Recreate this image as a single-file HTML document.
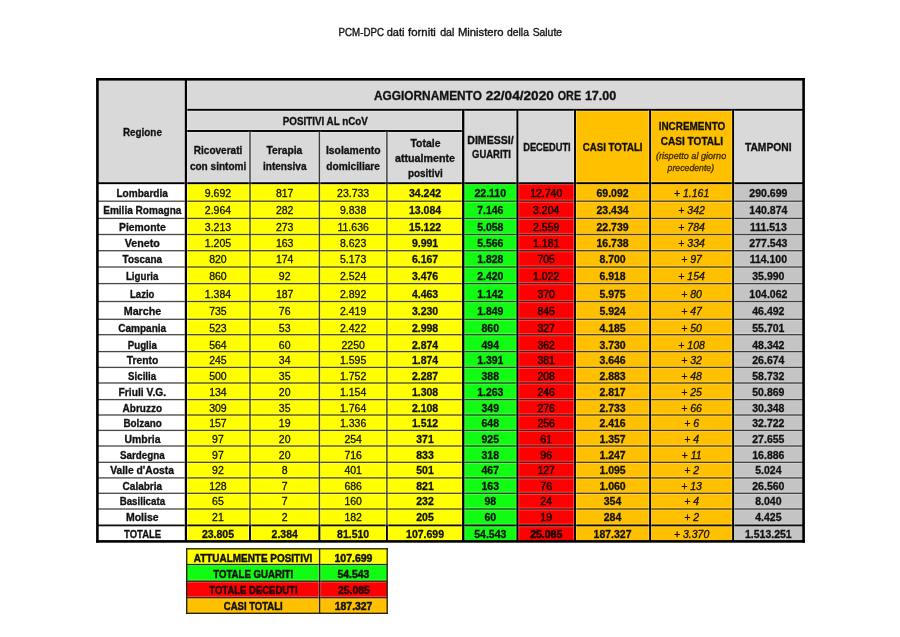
<!DOCTYPE html>
<html><head><meta charset="utf-8"><title>PCM-DPC</title>
<style>
html,body{margin:0;padding:0;background:#fff;}
body{width:900px;height:637px;overflow:hidden;}
svg{display:block;filter:blur(0.25px);}
text{font-family:"Liberation Sans", sans-serif;}
</style></head><body>
<svg width="900" height="637" viewBox="0 0 900 637">
<rect x="0" y="0" width="900" height="637" fill="#fff"/>
<rect x="97.40" y="79.30" width="706.20" height="103.90" fill="#d9d9d9"/>
<rect x="575.00" y="109.80" width="158.10" height="73.40" fill="#ffc000"/>
<rect x="97.40" y="183.20" width="88.50" height="18.00" fill="#ffffff"/>
<rect x="185.90" y="183.20" width="64.10" height="18.00" fill="#ffff00"/>
<rect x="250.00" y="183.20" width="69.40" height="18.00" fill="#ffff00"/>
<rect x="319.40" y="183.20" width="67.50" height="18.00" fill="#ffff00"/>
<rect x="386.90" y="183.20" width="76.30" height="18.00" fill="#ffff00"/>
<rect x="463.20" y="183.20" width="54.20" height="18.00" fill="#12fb12"/>
<rect x="517.40" y="183.20" width="57.60" height="18.00" fill="#fe0000"/>
<rect x="575.00" y="183.20" width="75.10" height="18.00" fill="#ffc000"/>
<rect x="650.10" y="183.20" width="83.00" height="18.00" fill="#ffc000"/>
<rect x="733.10" y="183.20" width="70.50" height="18.00" fill="#c4c4c4"/>
<rect x="97.40" y="201.20" width="88.50" height="17.20" fill="#ffffff"/>
<rect x="185.90" y="201.20" width="64.10" height="17.20" fill="#ffff00"/>
<rect x="250.00" y="201.20" width="69.40" height="17.20" fill="#ffff00"/>
<rect x="319.40" y="201.20" width="67.50" height="17.20" fill="#ffff00"/>
<rect x="386.90" y="201.20" width="76.30" height="17.20" fill="#ffff00"/>
<rect x="463.20" y="201.20" width="54.20" height="17.20" fill="#12fb12"/>
<rect x="517.40" y="201.20" width="57.60" height="17.20" fill="#fe0000"/>
<rect x="575.00" y="201.20" width="75.10" height="17.20" fill="#ffc000"/>
<rect x="650.10" y="201.20" width="83.00" height="17.20" fill="#ffc000"/>
<rect x="733.10" y="201.20" width="70.50" height="17.20" fill="#c4c4c4"/>
<rect x="97.40" y="218.40" width="88.50" height="16.10" fill="#ffffff"/>
<rect x="185.90" y="218.40" width="64.10" height="16.10" fill="#ffff00"/>
<rect x="250.00" y="218.40" width="69.40" height="16.10" fill="#ffff00"/>
<rect x="319.40" y="218.40" width="67.50" height="16.10" fill="#ffff00"/>
<rect x="386.90" y="218.40" width="76.30" height="16.10" fill="#ffff00"/>
<rect x="463.20" y="218.40" width="54.20" height="16.10" fill="#12fb12"/>
<rect x="517.40" y="218.40" width="57.60" height="16.10" fill="#fe0000"/>
<rect x="575.00" y="218.40" width="75.10" height="16.10" fill="#ffc000"/>
<rect x="650.10" y="218.40" width="83.00" height="16.10" fill="#ffc000"/>
<rect x="733.10" y="218.40" width="70.50" height="16.10" fill="#c4c4c4"/>
<rect x="97.40" y="234.50" width="88.50" height="16.20" fill="#ffffff"/>
<rect x="185.90" y="234.50" width="64.10" height="16.20" fill="#ffff00"/>
<rect x="250.00" y="234.50" width="69.40" height="16.20" fill="#ffff00"/>
<rect x="319.40" y="234.50" width="67.50" height="16.20" fill="#ffff00"/>
<rect x="386.90" y="234.50" width="76.30" height="16.20" fill="#ffff00"/>
<rect x="463.20" y="234.50" width="54.20" height="16.20" fill="#12fb12"/>
<rect x="517.40" y="234.50" width="57.60" height="16.20" fill="#fe0000"/>
<rect x="575.00" y="234.50" width="75.10" height="16.20" fill="#ffc000"/>
<rect x="650.10" y="234.50" width="83.00" height="16.20" fill="#ffc000"/>
<rect x="733.10" y="234.50" width="70.50" height="16.20" fill="#c4c4c4"/>
<rect x="97.40" y="250.70" width="88.50" height="16.30" fill="#ffffff"/>
<rect x="185.90" y="250.70" width="64.10" height="16.30" fill="#ffff00"/>
<rect x="250.00" y="250.70" width="69.40" height="16.30" fill="#ffff00"/>
<rect x="319.40" y="250.70" width="67.50" height="16.30" fill="#ffff00"/>
<rect x="386.90" y="250.70" width="76.30" height="16.30" fill="#ffff00"/>
<rect x="463.20" y="250.70" width="54.20" height="16.30" fill="#12fb12"/>
<rect x="517.40" y="250.70" width="57.60" height="16.30" fill="#fe0000"/>
<rect x="575.00" y="250.70" width="75.10" height="16.30" fill="#ffc000"/>
<rect x="650.10" y="250.70" width="83.00" height="16.30" fill="#ffc000"/>
<rect x="733.10" y="250.70" width="70.50" height="16.30" fill="#c4c4c4"/>
<rect x="97.40" y="267.00" width="88.50" height="16.60" fill="#ffffff"/>
<rect x="185.90" y="267.00" width="64.10" height="16.60" fill="#ffff00"/>
<rect x="250.00" y="267.00" width="69.40" height="16.60" fill="#ffff00"/>
<rect x="319.40" y="267.00" width="67.50" height="16.60" fill="#ffff00"/>
<rect x="386.90" y="267.00" width="76.30" height="16.60" fill="#ffff00"/>
<rect x="463.20" y="267.00" width="54.20" height="16.60" fill="#12fb12"/>
<rect x="517.40" y="267.00" width="57.60" height="16.60" fill="#fe0000"/>
<rect x="575.00" y="267.00" width="75.10" height="16.60" fill="#ffc000"/>
<rect x="650.10" y="267.00" width="83.00" height="16.60" fill="#ffc000"/>
<rect x="733.10" y="267.00" width="70.50" height="16.60" fill="#c4c4c4"/>
<rect x="97.40" y="283.60" width="88.50" height="17.90" fill="#ffffff"/>
<rect x="185.90" y="283.60" width="64.10" height="17.90" fill="#ffff00"/>
<rect x="250.00" y="283.60" width="69.40" height="17.90" fill="#ffff00"/>
<rect x="319.40" y="283.60" width="67.50" height="17.90" fill="#ffff00"/>
<rect x="386.90" y="283.60" width="76.30" height="17.90" fill="#ffff00"/>
<rect x="463.20" y="283.60" width="54.20" height="17.90" fill="#12fb12"/>
<rect x="517.40" y="283.60" width="57.60" height="17.90" fill="#fe0000"/>
<rect x="575.00" y="283.60" width="75.10" height="17.90" fill="#ffc000"/>
<rect x="650.10" y="283.60" width="83.00" height="17.90" fill="#ffc000"/>
<rect x="733.10" y="283.60" width="70.50" height="17.90" fill="#c4c4c4"/>
<rect x="97.40" y="301.50" width="88.50" height="17.80" fill="#ffffff"/>
<rect x="185.90" y="301.50" width="64.10" height="17.80" fill="#ffff00"/>
<rect x="250.00" y="301.50" width="69.40" height="17.80" fill="#ffff00"/>
<rect x="319.40" y="301.50" width="67.50" height="17.80" fill="#ffff00"/>
<rect x="386.90" y="301.50" width="76.30" height="17.80" fill="#ffff00"/>
<rect x="463.20" y="301.50" width="54.20" height="17.80" fill="#12fb12"/>
<rect x="517.40" y="301.50" width="57.60" height="17.80" fill="#fe0000"/>
<rect x="575.00" y="301.50" width="75.10" height="17.80" fill="#ffc000"/>
<rect x="650.10" y="301.50" width="83.00" height="17.80" fill="#ffc000"/>
<rect x="733.10" y="301.50" width="70.50" height="17.80" fill="#c4c4c4"/>
<rect x="97.40" y="319.30" width="88.50" height="15.40" fill="#ffffff"/>
<rect x="185.90" y="319.30" width="64.10" height="15.40" fill="#ffff00"/>
<rect x="250.00" y="319.30" width="69.40" height="15.40" fill="#ffff00"/>
<rect x="319.40" y="319.30" width="67.50" height="15.40" fill="#ffff00"/>
<rect x="386.90" y="319.30" width="76.30" height="15.40" fill="#ffff00"/>
<rect x="463.20" y="319.30" width="54.20" height="15.40" fill="#12fb12"/>
<rect x="517.40" y="319.30" width="57.60" height="15.40" fill="#fe0000"/>
<rect x="575.00" y="319.30" width="75.10" height="15.40" fill="#ffc000"/>
<rect x="650.10" y="319.30" width="83.00" height="15.40" fill="#ffc000"/>
<rect x="733.10" y="319.30" width="70.50" height="15.40" fill="#c4c4c4"/>
<rect x="97.40" y="334.70" width="88.50" height="16.90" fill="#ffffff"/>
<rect x="185.90" y="334.70" width="64.10" height="16.90" fill="#ffff00"/>
<rect x="250.00" y="334.70" width="69.40" height="16.90" fill="#ffff00"/>
<rect x="319.40" y="334.70" width="67.50" height="16.90" fill="#ffff00"/>
<rect x="386.90" y="334.70" width="76.30" height="16.90" fill="#ffff00"/>
<rect x="463.20" y="334.70" width="54.20" height="16.90" fill="#12fb12"/>
<rect x="517.40" y="334.70" width="57.60" height="16.90" fill="#fe0000"/>
<rect x="575.00" y="334.70" width="75.10" height="16.90" fill="#ffc000"/>
<rect x="650.10" y="334.70" width="83.00" height="16.90" fill="#ffc000"/>
<rect x="733.10" y="334.70" width="70.50" height="16.90" fill="#c4c4c4"/>
<rect x="97.40" y="351.60" width="88.50" height="15.80" fill="#ffffff"/>
<rect x="185.90" y="351.60" width="64.10" height="15.80" fill="#ffff00"/>
<rect x="250.00" y="351.60" width="69.40" height="15.80" fill="#ffff00"/>
<rect x="319.40" y="351.60" width="67.50" height="15.80" fill="#ffff00"/>
<rect x="386.90" y="351.60" width="76.30" height="15.80" fill="#ffff00"/>
<rect x="463.20" y="351.60" width="54.20" height="15.80" fill="#12fb12"/>
<rect x="517.40" y="351.60" width="57.60" height="15.80" fill="#fe0000"/>
<rect x="575.00" y="351.60" width="75.10" height="15.80" fill="#ffc000"/>
<rect x="650.10" y="351.60" width="83.00" height="15.80" fill="#ffc000"/>
<rect x="733.10" y="351.60" width="70.50" height="15.80" fill="#c4c4c4"/>
<rect x="97.40" y="367.40" width="88.50" height="15.60" fill="#ffffff"/>
<rect x="185.90" y="367.40" width="64.10" height="15.60" fill="#ffff00"/>
<rect x="250.00" y="367.40" width="69.40" height="15.60" fill="#ffff00"/>
<rect x="319.40" y="367.40" width="67.50" height="15.60" fill="#ffff00"/>
<rect x="386.90" y="367.40" width="76.30" height="15.60" fill="#ffff00"/>
<rect x="463.20" y="367.40" width="54.20" height="15.60" fill="#12fb12"/>
<rect x="517.40" y="367.40" width="57.60" height="15.60" fill="#fe0000"/>
<rect x="575.00" y="367.40" width="75.10" height="15.60" fill="#ffc000"/>
<rect x="650.10" y="367.40" width="83.00" height="15.60" fill="#ffc000"/>
<rect x="733.10" y="367.40" width="70.50" height="15.60" fill="#c4c4c4"/>
<rect x="97.40" y="383.00" width="88.50" height="16.60" fill="#ffffff"/>
<rect x="185.90" y="383.00" width="64.10" height="16.60" fill="#ffff00"/>
<rect x="250.00" y="383.00" width="69.40" height="16.60" fill="#ffff00"/>
<rect x="319.40" y="383.00" width="67.50" height="16.60" fill="#ffff00"/>
<rect x="386.90" y="383.00" width="76.30" height="16.60" fill="#ffff00"/>
<rect x="463.20" y="383.00" width="54.20" height="16.60" fill="#12fb12"/>
<rect x="517.40" y="383.00" width="57.60" height="16.60" fill="#fe0000"/>
<rect x="575.00" y="383.00" width="75.10" height="16.60" fill="#ffc000"/>
<rect x="650.10" y="383.00" width="83.00" height="16.60" fill="#ffc000"/>
<rect x="733.10" y="383.00" width="70.50" height="16.60" fill="#c4c4c4"/>
<rect x="97.40" y="399.60" width="88.50" height="15.40" fill="#ffffff"/>
<rect x="185.90" y="399.60" width="64.10" height="15.40" fill="#ffff00"/>
<rect x="250.00" y="399.60" width="69.40" height="15.40" fill="#ffff00"/>
<rect x="319.40" y="399.60" width="67.50" height="15.40" fill="#ffff00"/>
<rect x="386.90" y="399.60" width="76.30" height="15.40" fill="#ffff00"/>
<rect x="463.20" y="399.60" width="54.20" height="15.40" fill="#12fb12"/>
<rect x="517.40" y="399.60" width="57.60" height="15.40" fill="#fe0000"/>
<rect x="575.00" y="399.60" width="75.10" height="15.40" fill="#ffc000"/>
<rect x="650.10" y="399.60" width="83.00" height="15.40" fill="#ffc000"/>
<rect x="733.10" y="399.60" width="70.50" height="15.40" fill="#c4c4c4"/>
<rect x="97.40" y="415.00" width="88.50" height="15.40" fill="#ffffff"/>
<rect x="185.90" y="415.00" width="64.10" height="15.40" fill="#ffff00"/>
<rect x="250.00" y="415.00" width="69.40" height="15.40" fill="#ffff00"/>
<rect x="319.40" y="415.00" width="67.50" height="15.40" fill="#ffff00"/>
<rect x="386.90" y="415.00" width="76.30" height="15.40" fill="#ffff00"/>
<rect x="463.20" y="415.00" width="54.20" height="15.40" fill="#12fb12"/>
<rect x="517.40" y="415.00" width="57.60" height="15.40" fill="#fe0000"/>
<rect x="575.00" y="415.00" width="75.10" height="15.40" fill="#ffc000"/>
<rect x="650.10" y="415.00" width="83.00" height="15.40" fill="#ffc000"/>
<rect x="733.10" y="415.00" width="70.50" height="15.40" fill="#c4c4c4"/>
<rect x="97.40" y="430.40" width="88.50" height="15.60" fill="#ffffff"/>
<rect x="185.90" y="430.40" width="64.10" height="15.60" fill="#ffff00"/>
<rect x="250.00" y="430.40" width="69.40" height="15.60" fill="#ffff00"/>
<rect x="319.40" y="430.40" width="67.50" height="15.60" fill="#ffff00"/>
<rect x="386.90" y="430.40" width="76.30" height="15.60" fill="#ffff00"/>
<rect x="463.20" y="430.40" width="54.20" height="15.60" fill="#12fb12"/>
<rect x="517.40" y="430.40" width="57.60" height="15.60" fill="#fe0000"/>
<rect x="575.00" y="430.40" width="75.10" height="15.60" fill="#ffc000"/>
<rect x="650.10" y="430.40" width="83.00" height="15.60" fill="#ffc000"/>
<rect x="733.10" y="430.40" width="70.50" height="15.60" fill="#c4c4c4"/>
<rect x="97.40" y="446.00" width="88.50" height="16.30" fill="#ffffff"/>
<rect x="185.90" y="446.00" width="64.10" height="16.30" fill="#ffff00"/>
<rect x="250.00" y="446.00" width="69.40" height="16.30" fill="#ffff00"/>
<rect x="319.40" y="446.00" width="67.50" height="16.30" fill="#ffff00"/>
<rect x="386.90" y="446.00" width="76.30" height="16.30" fill="#ffff00"/>
<rect x="463.20" y="446.00" width="54.20" height="16.30" fill="#12fb12"/>
<rect x="517.40" y="446.00" width="57.60" height="16.30" fill="#fe0000"/>
<rect x="575.00" y="446.00" width="75.10" height="16.30" fill="#ffc000"/>
<rect x="650.10" y="446.00" width="83.00" height="16.30" fill="#ffc000"/>
<rect x="733.10" y="446.00" width="70.50" height="16.30" fill="#c4c4c4"/>
<rect x="97.40" y="462.30" width="88.50" height="15.60" fill="#ffffff"/>
<rect x="185.90" y="462.30" width="64.10" height="15.60" fill="#ffff00"/>
<rect x="250.00" y="462.30" width="69.40" height="15.60" fill="#ffff00"/>
<rect x="319.40" y="462.30" width="67.50" height="15.60" fill="#ffff00"/>
<rect x="386.90" y="462.30" width="76.30" height="15.60" fill="#ffff00"/>
<rect x="463.20" y="462.30" width="54.20" height="15.60" fill="#12fb12"/>
<rect x="517.40" y="462.30" width="57.60" height="15.60" fill="#fe0000"/>
<rect x="575.00" y="462.30" width="75.10" height="15.60" fill="#ffc000"/>
<rect x="650.10" y="462.30" width="83.00" height="15.60" fill="#ffc000"/>
<rect x="733.10" y="462.30" width="70.50" height="15.60" fill="#c4c4c4"/>
<rect x="97.40" y="477.90" width="88.50" height="15.40" fill="#ffffff"/>
<rect x="185.90" y="477.90" width="64.10" height="15.40" fill="#ffff00"/>
<rect x="250.00" y="477.90" width="69.40" height="15.40" fill="#ffff00"/>
<rect x="319.40" y="477.90" width="67.50" height="15.40" fill="#ffff00"/>
<rect x="386.90" y="477.90" width="76.30" height="15.40" fill="#ffff00"/>
<rect x="463.20" y="477.90" width="54.20" height="15.40" fill="#12fb12"/>
<rect x="517.40" y="477.90" width="57.60" height="15.40" fill="#fe0000"/>
<rect x="575.00" y="477.90" width="75.10" height="15.40" fill="#ffc000"/>
<rect x="650.10" y="477.90" width="83.00" height="15.40" fill="#ffc000"/>
<rect x="733.10" y="477.90" width="70.50" height="15.40" fill="#c4c4c4"/>
<rect x="97.40" y="493.30" width="88.50" height="15.70" fill="#ffffff"/>
<rect x="185.90" y="493.30" width="64.10" height="15.70" fill="#ffff00"/>
<rect x="250.00" y="493.30" width="69.40" height="15.70" fill="#ffff00"/>
<rect x="319.40" y="493.30" width="67.50" height="15.70" fill="#ffff00"/>
<rect x="386.90" y="493.30" width="76.30" height="15.70" fill="#ffff00"/>
<rect x="463.20" y="493.30" width="54.20" height="15.70" fill="#12fb12"/>
<rect x="517.40" y="493.30" width="57.60" height="15.70" fill="#fe0000"/>
<rect x="575.00" y="493.30" width="75.10" height="15.70" fill="#ffc000"/>
<rect x="650.10" y="493.30" width="83.00" height="15.70" fill="#ffc000"/>
<rect x="733.10" y="493.30" width="70.50" height="15.70" fill="#c4c4c4"/>
<rect x="97.40" y="509.00" width="88.50" height="16.40" fill="#ffffff"/>
<rect x="185.90" y="509.00" width="64.10" height="16.40" fill="#ffff00"/>
<rect x="250.00" y="509.00" width="69.40" height="16.40" fill="#ffff00"/>
<rect x="319.40" y="509.00" width="67.50" height="16.40" fill="#ffff00"/>
<rect x="386.90" y="509.00" width="76.30" height="16.40" fill="#ffff00"/>
<rect x="463.20" y="509.00" width="54.20" height="16.40" fill="#12fb12"/>
<rect x="517.40" y="509.00" width="57.60" height="16.40" fill="#fe0000"/>
<rect x="575.00" y="509.00" width="75.10" height="16.40" fill="#ffc000"/>
<rect x="650.10" y="509.00" width="83.00" height="16.40" fill="#ffc000"/>
<rect x="733.10" y="509.00" width="70.50" height="16.40" fill="#c4c4c4"/>
<rect x="97.40" y="525.40" width="88.50" height="16.00" fill="#ffffff"/>
<rect x="185.90" y="525.40" width="64.10" height="16.00" fill="#ffff00"/>
<rect x="250.00" y="525.40" width="69.40" height="16.00" fill="#ffff00"/>
<rect x="319.40" y="525.40" width="67.50" height="16.00" fill="#ffff00"/>
<rect x="386.90" y="525.40" width="76.30" height="16.00" fill="#ffff00"/>
<rect x="463.20" y="525.40" width="54.20" height="16.00" fill="#12fb12"/>
<rect x="517.40" y="525.40" width="57.60" height="16.00" fill="#fe0000"/>
<rect x="575.00" y="525.40" width="75.10" height="16.00" fill="#ffc000"/>
<rect x="650.10" y="525.40" width="83.00" height="16.00" fill="#ffc000"/>
<rect x="733.10" y="525.40" width="70.50" height="16.00" fill="#c4c4c4"/>
<rect x="97.40" y="199.65" width="706.20" height="3.10" fill="#fff" fill-opacity="0.28"/>
<rect x="97.40" y="200.55" width="706.20" height="1.30" fill="#000" fill-opacity="0.72"/>
<rect x="97.40" y="216.85" width="706.20" height="3.10" fill="#fff" fill-opacity="0.28"/>
<rect x="97.40" y="217.75" width="706.20" height="1.30" fill="#000" fill-opacity="0.72"/>
<rect x="97.40" y="232.95" width="706.20" height="3.10" fill="#fff" fill-opacity="0.28"/>
<rect x="97.40" y="233.85" width="706.20" height="1.30" fill="#000" fill-opacity="0.72"/>
<rect x="97.40" y="249.15" width="706.20" height="3.10" fill="#fff" fill-opacity="0.28"/>
<rect x="97.40" y="250.05" width="706.20" height="1.30" fill="#000" fill-opacity="0.72"/>
<rect x="97.40" y="265.45" width="706.20" height="3.10" fill="#fff" fill-opacity="0.28"/>
<rect x="97.40" y="266.35" width="706.20" height="1.30" fill="#000" fill-opacity="0.72"/>
<rect x="97.40" y="282.05" width="706.20" height="3.10" fill="#fff" fill-opacity="0.28"/>
<rect x="97.40" y="282.95" width="706.20" height="1.30" fill="#000" fill-opacity="0.72"/>
<rect x="97.40" y="299.95" width="706.20" height="3.10" fill="#fff" fill-opacity="0.28"/>
<rect x="97.40" y="300.85" width="706.20" height="1.30" fill="#000" fill-opacity="0.72"/>
<rect x="97.40" y="317.75" width="706.20" height="3.10" fill="#fff" fill-opacity="0.28"/>
<rect x="97.40" y="318.65" width="706.20" height="1.30" fill="#000" fill-opacity="0.72"/>
<rect x="97.40" y="333.15" width="706.20" height="3.10" fill="#fff" fill-opacity="0.28"/>
<rect x="97.40" y="334.05" width="706.20" height="1.30" fill="#000" fill-opacity="0.72"/>
<rect x="97.40" y="350.05" width="706.20" height="3.10" fill="#fff" fill-opacity="0.28"/>
<rect x="97.40" y="350.95" width="706.20" height="1.30" fill="#000" fill-opacity="0.72"/>
<rect x="97.40" y="365.85" width="706.20" height="3.10" fill="#fff" fill-opacity="0.28"/>
<rect x="97.40" y="366.75" width="706.20" height="1.30" fill="#000" fill-opacity="0.72"/>
<rect x="97.40" y="381.45" width="706.20" height="3.10" fill="#fff" fill-opacity="0.28"/>
<rect x="97.40" y="382.35" width="706.20" height="1.30" fill="#000" fill-opacity="0.72"/>
<rect x="97.40" y="398.05" width="706.20" height="3.10" fill="#fff" fill-opacity="0.28"/>
<rect x="97.40" y="398.95" width="706.20" height="1.30" fill="#000" fill-opacity="0.72"/>
<rect x="97.40" y="413.45" width="706.20" height="3.10" fill="#fff" fill-opacity="0.28"/>
<rect x="97.40" y="414.35" width="706.20" height="1.30" fill="#000" fill-opacity="0.72"/>
<rect x="97.40" y="428.85" width="706.20" height="3.10" fill="#fff" fill-opacity="0.28"/>
<rect x="97.40" y="429.75" width="706.20" height="1.30" fill="#000" fill-opacity="0.72"/>
<rect x="97.40" y="444.45" width="706.20" height="3.10" fill="#fff" fill-opacity="0.28"/>
<rect x="97.40" y="445.35" width="706.20" height="1.30" fill="#000" fill-opacity="0.72"/>
<rect x="97.40" y="460.75" width="706.20" height="3.10" fill="#fff" fill-opacity="0.28"/>
<rect x="97.40" y="461.65" width="706.20" height="1.30" fill="#000" fill-opacity="0.72"/>
<rect x="97.40" y="476.35" width="706.20" height="3.10" fill="#fff" fill-opacity="0.28"/>
<rect x="97.40" y="477.25" width="706.20" height="1.30" fill="#000" fill-opacity="0.72"/>
<rect x="97.40" y="491.75" width="706.20" height="3.10" fill="#fff" fill-opacity="0.28"/>
<rect x="97.40" y="492.65" width="706.20" height="1.30" fill="#000" fill-opacity="0.72"/>
<rect x="97.40" y="507.45" width="706.20" height="3.10" fill="#fff" fill-opacity="0.28"/>
<rect x="97.40" y="508.35" width="706.20" height="1.30" fill="#000" fill-opacity="0.72"/>
<rect x="97.40" y="523.60" width="706.20" height="3.60" fill="#fff" fill-opacity="0.28"/>
<rect x="97.40" y="524.50" width="706.20" height="1.80" fill="#000" fill-opacity="0.95"/>
<rect x="185.90" y="107.95" width="617.70" height="3.70" fill="#fff" fill-opacity="0.28"/>
<rect x="185.90" y="108.85" width="617.70" height="1.90" fill="#000" fill-opacity="1"/>
<rect x="185.90" y="129.15" width="277.30" height="3.70" fill="#fff" fill-opacity="0.28"/>
<rect x="185.90" y="130.05" width="277.30" height="1.90" fill="#000" fill-opacity="1"/>
<rect x="97.40" y="181.35" width="706.20" height="3.70" fill="#fff" fill-opacity="0.28"/>
<rect x="97.40" y="182.25" width="706.20" height="1.90" fill="#000" fill-opacity="1"/>
<rect x="248.40" y="131.00" width="3.20" height="410.40" fill="#fff" fill-opacity="0.28"/>
<rect x="249.30" y="131.00" width="1.40" height="410.40" fill="#000" fill-opacity="0.75"/>
<rect x="317.80" y="131.00" width="3.20" height="410.40" fill="#fff" fill-opacity="0.28"/>
<rect x="318.70" y="131.00" width="1.40" height="410.40" fill="#000" fill-opacity="0.75"/>
<rect x="385.30" y="131.00" width="3.20" height="410.40" fill="#fff" fill-opacity="0.28"/>
<rect x="386.20" y="131.00" width="1.40" height="410.40" fill="#000" fill-opacity="0.75"/>
<rect x="248.20" y="525.40" width="3.60" height="16.00" fill="#fff" fill-opacity="0.28"/>
<rect x="249.10" y="525.40" width="1.80" height="16.00" fill="#000" fill-opacity="1"/>
<rect x="317.60" y="525.40" width="3.60" height="16.00" fill="#fff" fill-opacity="0.28"/>
<rect x="318.50" y="525.40" width="1.80" height="16.00" fill="#000" fill-opacity="1"/>
<rect x="385.10" y="525.40" width="3.60" height="16.00" fill="#fff" fill-opacity="0.28"/>
<rect x="386.00" y="525.40" width="1.80" height="16.00" fill="#000" fill-opacity="1"/>
<rect x="183.90" y="79.30" width="4.00" height="462.10" fill="#fff" fill-opacity="0.28"/>
<rect x="184.80" y="79.30" width="2.20" height="462.10" fill="#000" fill-opacity="1"/>
<rect x="461.15" y="109.80" width="4.10" height="431.60" fill="#fff" fill-opacity="0.28"/>
<rect x="462.05" y="109.80" width="2.30" height="431.60" fill="#000" fill-opacity="1"/>
<rect x="515.55" y="109.80" width="3.70" height="431.60" fill="#fff" fill-opacity="0.28"/>
<rect x="516.45" y="109.80" width="1.90" height="431.60" fill="#000" fill-opacity="1"/>
<rect x="573.15" y="109.80" width="3.70" height="431.60" fill="#fff" fill-opacity="0.28"/>
<rect x="574.05" y="109.80" width="1.90" height="431.60" fill="#000" fill-opacity="1"/>
<rect x="648.25" y="109.80" width="3.70" height="431.60" fill="#fff" fill-opacity="0.28"/>
<rect x="649.15" y="109.80" width="1.90" height="431.60" fill="#000" fill-opacity="1"/>
<rect x="731.25" y="109.80" width="3.70" height="431.60" fill="#fff" fill-opacity="0.28"/>
<rect x="732.15" y="109.80" width="1.90" height="431.60" fill="#000" fill-opacity="1"/>
<rect x="96.10" y="78.00" width="708.80" height="2.60" fill="#000"/>
<rect x="96.10" y="540.10" width="708.80" height="2.60" fill="#000"/>
<rect x="96.10" y="78.00" width="2.60" height="464.70" fill="#000"/>
<rect x="802.30" y="78.00" width="2.60" height="464.70" fill="#000"/>
<text x="361.25" y="36.20" font-size="10.3" font-weight="normal" font-style="normal" fill="#141414" text-anchor="middle" textLength="45.40" lengthAdjust="spacingAndGlyphs" stroke="#141414" stroke-width="0.35">PCM-DPC</text>
<text x="395.55" y="36.20" font-size="10.3" font-weight="normal" font-style="normal" fill="#141414" text-anchor="middle" textLength="17.80" lengthAdjust="spacingAndGlyphs" stroke="#141414" stroke-width="0.35">dati</text>
<text x="421.95" y="36.20" font-size="10.3" font-weight="normal" font-style="normal" fill="#141414" text-anchor="middle" textLength="27.80" lengthAdjust="spacingAndGlyphs" stroke="#141414" stroke-width="0.35">forniti</text>
<text x="447.25" y="36.20" font-size="10.3" font-weight="normal" font-style="normal" fill="#141414" text-anchor="middle" textLength="14.20" lengthAdjust="spacingAndGlyphs" stroke="#141414" stroke-width="0.35">dal</text>
<text x="480.80" y="36.20" font-size="10.3" font-weight="normal" font-style="normal" fill="#141414" text-anchor="middle" textLength="45.70" lengthAdjust="spacingAndGlyphs" stroke="#141414" stroke-width="0.35">Ministero</text>
<text x="518.00" y="36.20" font-size="10.3" font-weight="normal" font-style="normal" fill="#141414" text-anchor="middle" textLength="21.90" lengthAdjust="spacingAndGlyphs" stroke="#141414" stroke-width="0.35">della</text>
<text x="547.35" y="36.20" font-size="10.3" font-weight="normal" font-style="normal" fill="#141414" text-anchor="middle" textLength="29.40" lengthAdjust="spacingAndGlyphs" stroke="#141414" stroke-width="0.35">Salute</text>
<text x="427.95" y="99.70" font-size="12.3" font-weight="bold" font-style="normal" fill="#111" text-anchor="middle" textLength="107.90" lengthAdjust="spacingAndGlyphs" stroke="#111" stroke-width="0.3">AGGIORNAMENTO</text>
<text x="519.75" y="99.70" font-size="12.3" font-weight="bold" font-style="normal" fill="#111" text-anchor="middle" textLength="68.10" lengthAdjust="spacingAndGlyphs" stroke="#111" stroke-width="0.3">22/04/2020</text>
<text x="569.40" y="99.70" font-size="12.3" font-weight="bold" font-style="normal" fill="#111" text-anchor="middle" textLength="23.40" lengthAdjust="spacingAndGlyphs" stroke="#111" stroke-width="0.3">ORE</text>
<text x="600.60" y="99.70" font-size="12.3" font-weight="bold" font-style="normal" fill="#111" text-anchor="middle" textLength="31.40" lengthAdjust="spacingAndGlyphs" stroke="#111" stroke-width="0.3">17.00</text>
<text x="122.90" y="136.20" font-size="10.2" font-weight="bold" font-style="normal" fill="#111" text-anchor="start" textLength="39.00" lengthAdjust="spacingAndGlyphs" stroke="#111" stroke-width="0.3">Regione</text>
<text x="282.80" y="124.90" font-size="10.2" font-weight="bold" font-style="normal" fill="#111" text-anchor="start" textLength="85.00" lengthAdjust="spacingAndGlyphs" stroke="#111" stroke-width="0.3">POSITIVI AL nCoV</text>
<text x="193.80" y="153.80" font-size="10.2" font-weight="bold" font-style="normal" fill="#111" text-anchor="start" textLength="48.50" lengthAdjust="spacingAndGlyphs" stroke="#111" stroke-width="0.3">Ricoverati</text>
<text x="189.90" y="169.60" font-size="10.2" font-weight="bold" font-style="normal" fill="#111" text-anchor="start" textLength="56.40" lengthAdjust="spacingAndGlyphs" stroke="#111" stroke-width="0.3">con sintomi</text>
<text x="266.60" y="153.80" font-size="10.2" font-weight="bold" font-style="normal" fill="#111" text-anchor="start" textLength="35.70" lengthAdjust="spacingAndGlyphs" stroke="#111" stroke-width="0.3">Terapia</text>
<text x="263.00" y="169.60" font-size="10.2" font-weight="bold" font-style="normal" fill="#111" text-anchor="start" textLength="43.50" lengthAdjust="spacingAndGlyphs" stroke="#111" stroke-width="0.3">intensiva</text>
<text x="326.00" y="154.00" font-size="10.2" font-weight="bold" font-style="normal" fill="#111" text-anchor="start" textLength="54.50" lengthAdjust="spacingAndGlyphs" stroke="#111" stroke-width="0.3">Isolamento</text>
<text x="326.30" y="169.50" font-size="10.2" font-weight="bold" font-style="normal" fill="#111" text-anchor="start" textLength="53.70" lengthAdjust="spacingAndGlyphs" stroke="#111" stroke-width="0.3">domiciliare</text>
<text x="410.50" y="146.80" font-size="10.2" font-weight="bold" font-style="normal" fill="#111" text-anchor="start" textLength="30.00" lengthAdjust="spacingAndGlyphs" stroke="#111" stroke-width="0.3">Totale</text>
<text x="395.00" y="161.70" font-size="10.2" font-weight="bold" font-style="normal" fill="#111" text-anchor="start" textLength="60.00" lengthAdjust="spacingAndGlyphs" stroke="#111" stroke-width="0.3">attualmente</text>
<text x="408.00" y="177.10" font-size="10.2" font-weight="bold" font-style="normal" fill="#111" text-anchor="start" textLength="34.70" lengthAdjust="spacingAndGlyphs" stroke="#111" stroke-width="0.3">positivi</text>
<text x="467.30" y="143.80" font-size="10.2" font-weight="bold" font-style="normal" fill="#111" text-anchor="start" textLength="46.40" lengthAdjust="spacingAndGlyphs" stroke="#111" stroke-width="0.3">DIMESSI/</text>
<text x="472.10" y="158.10" font-size="10.2" font-weight="bold" font-style="normal" fill="#111" text-anchor="start" textLength="38.90" lengthAdjust="spacingAndGlyphs" stroke="#111" stroke-width="0.3">GUARITI</text>
<text x="523.20" y="150.50" font-size="10.2" font-weight="bold" font-style="normal" fill="#111" text-anchor="start" textLength="47.50" lengthAdjust="spacingAndGlyphs" stroke="#111" stroke-width="0.3">DECEDUTI</text>
<text x="582.80" y="150.50" font-size="10.2" font-weight="bold" font-style="normal" fill="#111" text-anchor="start" textLength="59.70" lengthAdjust="spacingAndGlyphs" stroke="#111" stroke-width="0.3">CASI TOTALI</text>
<text x="658.70" y="130.40" font-size="10.2" font-weight="bold" font-style="normal" fill="#111" text-anchor="start" textLength="66.60" lengthAdjust="spacingAndGlyphs" stroke="#111" stroke-width="0.3">INCREMENTO</text>
<text x="660.80" y="144.70" font-size="10.2" font-weight="bold" font-style="normal" fill="#111" text-anchor="start" textLength="62.20" lengthAdjust="spacingAndGlyphs" stroke="#111" stroke-width="0.3">CASI  TOTALI</text>
<text x="656.00" y="158.90" font-size="9.0" font-weight="normal" font-style="italic" fill="#3a2a00" text-anchor="start" textLength="70.20" lengthAdjust="spacingAndGlyphs" stroke="#3a2a00" stroke-width="0.3">(rispetto al giorno</text>
<text x="667.60" y="171.30" font-size="9.0" font-weight="normal" font-style="italic" fill="#3a2a00" text-anchor="start" textLength="46.50" lengthAdjust="spacingAndGlyphs" stroke="#3a2a00" stroke-width="0.3">precedente)</text>
<text x="744.90" y="150.50" font-size="10.2" font-weight="bold" font-style="normal" fill="#111" text-anchor="start" textLength="46.70" lengthAdjust="spacingAndGlyphs" stroke="#111" stroke-width="0.3">TAMPONI</text>
<text x="142.15" y="196.80" font-size="10.2" font-weight="bold" font-style="normal" fill="#111" text-anchor="middle" textLength="51.50" lengthAdjust="spacingAndGlyphs" stroke="#111" stroke-width="0.3">Lombardia</text>
<text x="217.95" y="196.80" font-size="10.5" font-weight="normal" font-style="normal" fill="#111" text-anchor="middle" stroke="#111" stroke-width="0.3">9.692</text>
<text x="284.70" y="196.80" font-size="10.5" font-weight="normal" font-style="normal" fill="#111" text-anchor="middle" stroke="#111" stroke-width="0.3">817</text>
<text x="353.15" y="196.80" font-size="10.5" font-weight="normal" font-style="normal" fill="#111" text-anchor="middle" stroke="#111" stroke-width="0.3">23.733</text>
<text x="425.05" y="196.80" font-size="10.5" font-weight="bold" font-style="normal" fill="#111" text-anchor="middle" stroke="#111" stroke-width="0.3">34.242</text>
<text x="490.30" y="196.80" font-size="10.5" font-weight="bold" font-style="normal" fill="#111" text-anchor="middle" stroke="#111" stroke-width="0.3">22.110</text>
<text x="546.20" y="196.80" font-size="10.5" font-weight="normal" font-style="normal" fill="#1a0000" text-anchor="middle" stroke="#1a0000" stroke-width="0.55">12.740</text>
<text x="612.55" y="196.80" font-size="10.5" font-weight="bold" font-style="normal" fill="#111" text-anchor="middle" stroke="#111" stroke-width="0.3">69.092</text>
<text x="691.60" y="196.80" font-size="10.5" font-weight="normal" font-style="italic" fill="#111" text-anchor="middle" stroke="#111" stroke-width="0.3">+ 1.161</text>
<text x="768.35" y="196.80" font-size="10.5" font-weight="bold" font-style="normal" fill="#111" text-anchor="middle" stroke="#111" stroke-width="0.3">290.699</text>
<text x="142.30" y="214.10" font-size="10.2" font-weight="bold" font-style="normal" fill="#111" text-anchor="middle" textLength="78.20" lengthAdjust="spacingAndGlyphs" stroke="#111" stroke-width="0.3">Emilia Romagna</text>
<text x="217.95" y="214.10" font-size="10.5" font-weight="normal" font-style="normal" fill="#111" text-anchor="middle" stroke="#111" stroke-width="0.3">2.964</text>
<text x="284.70" y="214.10" font-size="10.5" font-weight="normal" font-style="normal" fill="#111" text-anchor="middle" stroke="#111" stroke-width="0.3">282</text>
<text x="353.15" y="214.10" font-size="10.5" font-weight="normal" font-style="normal" fill="#111" text-anchor="middle" stroke="#111" stroke-width="0.3">9.838</text>
<text x="425.05" y="214.10" font-size="10.5" font-weight="bold" font-style="normal" fill="#111" text-anchor="middle" stroke="#111" stroke-width="0.3">13.084</text>
<text x="490.30" y="214.10" font-size="10.5" font-weight="bold" font-style="normal" fill="#111" text-anchor="middle" stroke="#111" stroke-width="0.3">7.146</text>
<text x="546.20" y="214.10" font-size="10.5" font-weight="normal" font-style="normal" fill="#1a0000" text-anchor="middle" stroke="#1a0000" stroke-width="0.55">3.204</text>
<text x="612.55" y="214.10" font-size="10.5" font-weight="bold" font-style="normal" fill="#111" text-anchor="middle" stroke="#111" stroke-width="0.3">23.434</text>
<text x="691.60" y="214.10" font-size="10.5" font-weight="normal" font-style="italic" fill="#111" text-anchor="middle" stroke="#111" stroke-width="0.3">+ 342</text>
<text x="768.35" y="214.10" font-size="10.5" font-weight="bold" font-style="normal" fill="#111" text-anchor="middle" stroke="#111" stroke-width="0.3">140.874</text>
<text x="142.35" y="230.90" font-size="10.2" font-weight="bold" font-style="normal" fill="#111" text-anchor="middle" textLength="46.70" lengthAdjust="spacingAndGlyphs" stroke="#111" stroke-width="0.3">Piemonte</text>
<text x="217.95" y="230.90" font-size="10.5" font-weight="normal" font-style="normal" fill="#111" text-anchor="middle" stroke="#111" stroke-width="0.3">3.213</text>
<text x="284.70" y="230.90" font-size="10.5" font-weight="normal" font-style="normal" fill="#111" text-anchor="middle" stroke="#111" stroke-width="0.3">273</text>
<text x="353.15" y="230.90" font-size="10.5" font-weight="normal" font-style="normal" fill="#111" text-anchor="middle" stroke="#111" stroke-width="0.3">11.636</text>
<text x="425.05" y="230.90" font-size="10.5" font-weight="bold" font-style="normal" fill="#111" text-anchor="middle" stroke="#111" stroke-width="0.3">15.122</text>
<text x="490.30" y="230.90" font-size="10.5" font-weight="bold" font-style="normal" fill="#111" text-anchor="middle" stroke="#111" stroke-width="0.3">5.058</text>
<text x="546.20" y="230.90" font-size="10.5" font-weight="normal" font-style="normal" fill="#1a0000" text-anchor="middle" stroke="#1a0000" stroke-width="0.55">2.559</text>
<text x="612.55" y="230.90" font-size="10.5" font-weight="bold" font-style="normal" fill="#111" text-anchor="middle" stroke="#111" stroke-width="0.3">22.739</text>
<text x="691.60" y="230.90" font-size="10.5" font-weight="normal" font-style="italic" fill="#111" text-anchor="middle" stroke="#111" stroke-width="0.3">+ 784</text>
<text x="768.35" y="230.90" font-size="10.5" font-weight="bold" font-style="normal" fill="#111" text-anchor="middle" stroke="#111" stroke-width="0.3">111.513</text>
<text x="142.35" y="247.00" font-size="10.2" font-weight="bold" font-style="normal" fill="#111" text-anchor="middle" textLength="35.10" lengthAdjust="spacingAndGlyphs" stroke="#111" stroke-width="0.3">Veneto</text>
<text x="217.95" y="247.00" font-size="10.5" font-weight="normal" font-style="normal" fill="#111" text-anchor="middle" stroke="#111" stroke-width="0.3">1.205</text>
<text x="284.70" y="247.00" font-size="10.5" font-weight="normal" font-style="normal" fill="#111" text-anchor="middle" stroke="#111" stroke-width="0.3">163</text>
<text x="353.15" y="247.00" font-size="10.5" font-weight="normal" font-style="normal" fill="#111" text-anchor="middle" stroke="#111" stroke-width="0.3">8.623</text>
<text x="425.05" y="247.00" font-size="10.5" font-weight="bold" font-style="normal" fill="#111" text-anchor="middle" stroke="#111" stroke-width="0.3">9.991</text>
<text x="490.30" y="247.00" font-size="10.5" font-weight="bold" font-style="normal" fill="#111" text-anchor="middle" stroke="#111" stroke-width="0.3">5.566</text>
<text x="546.20" y="247.00" font-size="10.5" font-weight="normal" font-style="normal" fill="#1a0000" text-anchor="middle" stroke="#1a0000" stroke-width="0.55">1.181</text>
<text x="612.55" y="247.00" font-size="10.5" font-weight="bold" font-style="normal" fill="#111" text-anchor="middle" stroke="#111" stroke-width="0.3">16.738</text>
<text x="691.60" y="247.00" font-size="10.5" font-weight="normal" font-style="italic" fill="#111" text-anchor="middle" stroke="#111" stroke-width="0.3">+ 334</text>
<text x="768.35" y="247.00" font-size="10.5" font-weight="bold" font-style="normal" fill="#111" text-anchor="middle" stroke="#111" stroke-width="0.3">277.543</text>
<text x="142.35" y="262.90" font-size="10.2" font-weight="bold" font-style="normal" fill="#111" text-anchor="middle" textLength="39.50" lengthAdjust="spacingAndGlyphs" stroke="#111" stroke-width="0.3">Toscana</text>
<text x="217.95" y="262.90" font-size="10.5" font-weight="normal" font-style="normal" fill="#111" text-anchor="middle" stroke="#111" stroke-width="0.3">820</text>
<text x="284.70" y="262.90" font-size="10.5" font-weight="normal" font-style="normal" fill="#111" text-anchor="middle" stroke="#111" stroke-width="0.3">174</text>
<text x="353.15" y="262.90" font-size="10.5" font-weight="normal" font-style="normal" fill="#111" text-anchor="middle" stroke="#111" stroke-width="0.3">5.173</text>
<text x="425.05" y="262.90" font-size="10.5" font-weight="bold" font-style="normal" fill="#111" text-anchor="middle" stroke="#111" stroke-width="0.3">6.167</text>
<text x="490.30" y="262.90" font-size="10.5" font-weight="bold" font-style="normal" fill="#111" text-anchor="middle" stroke="#111" stroke-width="0.3">1.828</text>
<text x="546.20" y="262.90" font-size="10.5" font-weight="normal" font-style="normal" fill="#1a0000" text-anchor="middle" stroke="#1a0000" stroke-width="0.55">705</text>
<text x="612.55" y="262.90" font-size="10.5" font-weight="bold" font-style="normal" fill="#111" text-anchor="middle" stroke="#111" stroke-width="0.3">8.700</text>
<text x="691.60" y="262.90" font-size="10.5" font-weight="normal" font-style="italic" fill="#111" text-anchor="middle" stroke="#111" stroke-width="0.3">+ 97</text>
<text x="768.35" y="262.90" font-size="10.5" font-weight="bold" font-style="normal" fill="#111" text-anchor="middle" stroke="#111" stroke-width="0.3">114.100</text>
<text x="142.10" y="280.20" font-size="10.2" font-weight="bold" font-style="normal" fill="#111" text-anchor="middle" textLength="32.40" lengthAdjust="spacingAndGlyphs" stroke="#111" stroke-width="0.3">Liguria</text>
<text x="217.95" y="280.20" font-size="10.5" font-weight="normal" font-style="normal" fill="#111" text-anchor="middle" stroke="#111" stroke-width="0.3">860</text>
<text x="284.70" y="280.20" font-size="10.5" font-weight="normal" font-style="normal" fill="#111" text-anchor="middle" stroke="#111" stroke-width="0.3">92</text>
<text x="353.15" y="280.20" font-size="10.5" font-weight="normal" font-style="normal" fill="#111" text-anchor="middle" stroke="#111" stroke-width="0.3">2.524</text>
<text x="425.05" y="280.20" font-size="10.5" font-weight="bold" font-style="normal" fill="#111" text-anchor="middle" stroke="#111" stroke-width="0.3">3.476</text>
<text x="490.30" y="280.20" font-size="10.5" font-weight="bold" font-style="normal" fill="#111" text-anchor="middle" stroke="#111" stroke-width="0.3">2.420</text>
<text x="546.20" y="280.20" font-size="10.5" font-weight="normal" font-style="normal" fill="#1a0000" text-anchor="middle" stroke="#1a0000" stroke-width="0.55">1.022</text>
<text x="612.55" y="280.20" font-size="10.5" font-weight="bold" font-style="normal" fill="#111" text-anchor="middle" stroke="#111" stroke-width="0.3">6.918</text>
<text x="691.60" y="280.20" font-size="10.5" font-weight="normal" font-style="italic" fill="#111" text-anchor="middle" stroke="#111" stroke-width="0.3">+ 154</text>
<text x="768.35" y="280.20" font-size="10.5" font-weight="bold" font-style="normal" fill="#111" text-anchor="middle" stroke="#111" stroke-width="0.3">35.990</text>
<text x="142.20" y="297.60" font-size="10.2" font-weight="bold" font-style="normal" fill="#111" text-anchor="middle" textLength="24.40" lengthAdjust="spacingAndGlyphs" stroke="#111" stroke-width="0.3">Lazio</text>
<text x="217.95" y="297.60" font-size="10.5" font-weight="normal" font-style="normal" fill="#111" text-anchor="middle" stroke="#111" stroke-width="0.3">1.384</text>
<text x="284.70" y="297.60" font-size="10.5" font-weight="normal" font-style="normal" fill="#111" text-anchor="middle" stroke="#111" stroke-width="0.3">187</text>
<text x="353.15" y="297.60" font-size="10.5" font-weight="normal" font-style="normal" fill="#111" text-anchor="middle" stroke="#111" stroke-width="0.3">2.892</text>
<text x="425.05" y="297.60" font-size="10.5" font-weight="bold" font-style="normal" fill="#111" text-anchor="middle" stroke="#111" stroke-width="0.3">4.463</text>
<text x="490.30" y="297.60" font-size="10.5" font-weight="bold" font-style="normal" fill="#111" text-anchor="middle" stroke="#111" stroke-width="0.3">1.142</text>
<text x="546.20" y="297.60" font-size="10.5" font-weight="normal" font-style="normal" fill="#1a0000" text-anchor="middle" stroke="#1a0000" stroke-width="0.55">370</text>
<text x="612.55" y="297.60" font-size="10.5" font-weight="bold" font-style="normal" fill="#111" text-anchor="middle" stroke="#111" stroke-width="0.3">5.975</text>
<text x="691.60" y="297.60" font-size="10.5" font-weight="normal" font-style="italic" fill="#111" text-anchor="middle" stroke="#111" stroke-width="0.3">+ 80</text>
<text x="768.35" y="297.60" font-size="10.5" font-weight="bold" font-style="normal" fill="#111" text-anchor="middle" stroke="#111" stroke-width="0.3">104.062</text>
<text x="142.50" y="314.60" font-size="10.2" font-weight="bold" font-style="normal" fill="#111" text-anchor="middle" textLength="37.60" lengthAdjust="spacingAndGlyphs" stroke="#111" stroke-width="0.3">Marche</text>
<text x="217.95" y="314.60" font-size="10.5" font-weight="normal" font-style="normal" fill="#111" text-anchor="middle" stroke="#111" stroke-width="0.3">735</text>
<text x="284.70" y="314.60" font-size="10.5" font-weight="normal" font-style="normal" fill="#111" text-anchor="middle" stroke="#111" stroke-width="0.3">76</text>
<text x="353.15" y="314.60" font-size="10.5" font-weight="normal" font-style="normal" fill="#111" text-anchor="middle" stroke="#111" stroke-width="0.3">2.419</text>
<text x="425.05" y="314.60" font-size="10.5" font-weight="bold" font-style="normal" fill="#111" text-anchor="middle" stroke="#111" stroke-width="0.3">3.230</text>
<text x="490.30" y="314.60" font-size="10.5" font-weight="bold" font-style="normal" fill="#111" text-anchor="middle" stroke="#111" stroke-width="0.3">1.849</text>
<text x="546.20" y="314.60" font-size="10.5" font-weight="normal" font-style="normal" fill="#1a0000" text-anchor="middle" stroke="#1a0000" stroke-width="0.55">845</text>
<text x="612.55" y="314.60" font-size="10.5" font-weight="bold" font-style="normal" fill="#111" text-anchor="middle" stroke="#111" stroke-width="0.3">5.924</text>
<text x="691.60" y="314.60" font-size="10.5" font-weight="normal" font-style="italic" fill="#111" text-anchor="middle" stroke="#111" stroke-width="0.3">+ 47</text>
<text x="768.35" y="314.60" font-size="10.5" font-weight="bold" font-style="normal" fill="#111" text-anchor="middle" stroke="#111" stroke-width="0.3">46.492</text>
<text x="142.20" y="331.70" font-size="10.2" font-weight="bold" font-style="normal" fill="#111" text-anchor="middle" textLength="48.00" lengthAdjust="spacingAndGlyphs" stroke="#111" stroke-width="0.3">Campania</text>
<text x="217.95" y="331.70" font-size="10.5" font-weight="normal" font-style="normal" fill="#111" text-anchor="middle" stroke="#111" stroke-width="0.3">523</text>
<text x="284.70" y="331.70" font-size="10.5" font-weight="normal" font-style="normal" fill="#111" text-anchor="middle" stroke="#111" stroke-width="0.3">53</text>
<text x="353.15" y="331.70" font-size="10.5" font-weight="normal" font-style="normal" fill="#111" text-anchor="middle" stroke="#111" stroke-width="0.3">2.422</text>
<text x="425.05" y="331.70" font-size="10.5" font-weight="bold" font-style="normal" fill="#111" text-anchor="middle" stroke="#111" stroke-width="0.3">2.998</text>
<text x="490.30" y="331.70" font-size="10.5" font-weight="bold" font-style="normal" fill="#111" text-anchor="middle" stroke="#111" stroke-width="0.3">860</text>
<text x="546.20" y="331.70" font-size="10.5" font-weight="normal" font-style="normal" fill="#1a0000" text-anchor="middle" stroke="#1a0000" stroke-width="0.55">327</text>
<text x="612.55" y="331.70" font-size="10.5" font-weight="bold" font-style="normal" fill="#111" text-anchor="middle" stroke="#111" stroke-width="0.3">4.185</text>
<text x="691.60" y="331.70" font-size="10.5" font-weight="normal" font-style="italic" fill="#111" text-anchor="middle" stroke="#111" stroke-width="0.3">+ 50</text>
<text x="768.35" y="331.70" font-size="10.5" font-weight="bold" font-style="normal" fill="#111" text-anchor="middle" stroke="#111" stroke-width="0.3">55.701</text>
<text x="142.35" y="349.00" font-size="10.2" font-weight="bold" font-style="normal" fill="#111" text-anchor="middle" textLength="29.10" lengthAdjust="spacingAndGlyphs" stroke="#111" stroke-width="0.3">Puglia</text>
<text x="217.95" y="349.00" font-size="10.5" font-weight="normal" font-style="normal" fill="#111" text-anchor="middle" stroke="#111" stroke-width="0.3">564</text>
<text x="284.70" y="349.00" font-size="10.5" font-weight="normal" font-style="normal" fill="#111" text-anchor="middle" stroke="#111" stroke-width="0.3">60</text>
<text x="353.15" y="349.00" font-size="10.5" font-weight="normal" font-style="normal" fill="#111" text-anchor="middle" stroke="#111" stroke-width="0.3">2250</text>
<text x="425.05" y="349.00" font-size="10.5" font-weight="bold" font-style="normal" fill="#111" text-anchor="middle" stroke="#111" stroke-width="0.3">2.874</text>
<text x="490.30" y="349.00" font-size="10.5" font-weight="bold" font-style="normal" fill="#111" text-anchor="middle" stroke="#111" stroke-width="0.3">494</text>
<text x="546.20" y="349.00" font-size="10.5" font-weight="normal" font-style="normal" fill="#1a0000" text-anchor="middle" stroke="#1a0000" stroke-width="0.55">362</text>
<text x="612.55" y="349.00" font-size="10.5" font-weight="bold" font-style="normal" fill="#111" text-anchor="middle" stroke="#111" stroke-width="0.3">3.730</text>
<text x="691.60" y="349.00" font-size="10.5" font-weight="normal" font-style="italic" fill="#111" text-anchor="middle" stroke="#111" stroke-width="0.3">+ 108</text>
<text x="768.35" y="349.00" font-size="10.5" font-weight="bold" font-style="normal" fill="#111" text-anchor="middle" stroke="#111" stroke-width="0.3">48.342</text>
<text x="142.50" y="363.80" font-size="10.2" font-weight="bold" font-style="normal" fill="#111" text-anchor="middle" textLength="31.60" lengthAdjust="spacingAndGlyphs" stroke="#111" stroke-width="0.3">Trento</text>
<text x="217.95" y="363.80" font-size="10.5" font-weight="normal" font-style="normal" fill="#111" text-anchor="middle" stroke="#111" stroke-width="0.3">245</text>
<text x="284.70" y="363.80" font-size="10.5" font-weight="normal" font-style="normal" fill="#111" text-anchor="middle" stroke="#111" stroke-width="0.3">34</text>
<text x="353.15" y="363.80" font-size="10.5" font-weight="normal" font-style="normal" fill="#111" text-anchor="middle" stroke="#111" stroke-width="0.3">1.595</text>
<text x="425.05" y="363.80" font-size="10.5" font-weight="bold" font-style="normal" fill="#111" text-anchor="middle" stroke="#111" stroke-width="0.3">1.874</text>
<text x="490.30" y="363.80" font-size="10.5" font-weight="bold" font-style="normal" fill="#111" text-anchor="middle" stroke="#111" stroke-width="0.3">1.391</text>
<text x="546.20" y="363.80" font-size="10.5" font-weight="normal" font-style="normal" fill="#1a0000" text-anchor="middle" stroke="#1a0000" stroke-width="0.55">381</text>
<text x="612.55" y="363.80" font-size="10.5" font-weight="bold" font-style="normal" fill="#111" text-anchor="middle" stroke="#111" stroke-width="0.3">3.646</text>
<text x="691.60" y="363.80" font-size="10.5" font-weight="normal" font-style="italic" fill="#111" text-anchor="middle" stroke="#111" stroke-width="0.3">+ 32</text>
<text x="768.35" y="363.80" font-size="10.5" font-weight="bold" font-style="normal" fill="#111" text-anchor="middle" stroke="#111" stroke-width="0.3">26.674</text>
<text x="142.10" y="380.00" font-size="10.2" font-weight="bold" font-style="normal" fill="#111" text-anchor="middle" textLength="28.00" lengthAdjust="spacingAndGlyphs" stroke="#111" stroke-width="0.3">Sicilia</text>
<text x="217.95" y="380.00" font-size="10.5" font-weight="normal" font-style="normal" fill="#111" text-anchor="middle" stroke="#111" stroke-width="0.3">500</text>
<text x="284.70" y="380.00" font-size="10.5" font-weight="normal" font-style="normal" fill="#111" text-anchor="middle" stroke="#111" stroke-width="0.3">35</text>
<text x="353.15" y="380.00" font-size="10.5" font-weight="normal" font-style="normal" fill="#111" text-anchor="middle" stroke="#111" stroke-width="0.3">1.752</text>
<text x="425.05" y="380.00" font-size="10.5" font-weight="bold" font-style="normal" fill="#111" text-anchor="middle" stroke="#111" stroke-width="0.3">2.287</text>
<text x="490.30" y="380.00" font-size="10.5" font-weight="bold" font-style="normal" fill="#111" text-anchor="middle" stroke="#111" stroke-width="0.3">388</text>
<text x="546.20" y="380.00" font-size="10.5" font-weight="normal" font-style="normal" fill="#1a0000" text-anchor="middle" stroke="#1a0000" stroke-width="0.55">208</text>
<text x="612.55" y="380.00" font-size="10.5" font-weight="bold" font-style="normal" fill="#111" text-anchor="middle" stroke="#111" stroke-width="0.3">2.883</text>
<text x="691.60" y="380.00" font-size="10.5" font-weight="normal" font-style="italic" fill="#111" text-anchor="middle" stroke="#111" stroke-width="0.3">+ 48</text>
<text x="768.35" y="380.00" font-size="10.5" font-weight="bold" font-style="normal" fill="#111" text-anchor="middle" stroke="#111" stroke-width="0.3">58.732</text>
<text x="142.40" y="395.90" font-size="10.2" font-weight="bold" font-style="normal" fill="#111" text-anchor="middle" textLength="47.60" lengthAdjust="spacingAndGlyphs" stroke="#111" stroke-width="0.3">Friuli V.G.</text>
<text x="217.95" y="395.90" font-size="10.5" font-weight="normal" font-style="normal" fill="#111" text-anchor="middle" stroke="#111" stroke-width="0.3">134</text>
<text x="284.70" y="395.90" font-size="10.5" font-weight="normal" font-style="normal" fill="#111" text-anchor="middle" stroke="#111" stroke-width="0.3">20</text>
<text x="353.15" y="395.90" font-size="10.5" font-weight="normal" font-style="normal" fill="#111" text-anchor="middle" stroke="#111" stroke-width="0.3">1.154</text>
<text x="425.05" y="395.90" font-size="10.5" font-weight="bold" font-style="normal" fill="#111" text-anchor="middle" stroke="#111" stroke-width="0.3">1.308</text>
<text x="490.30" y="395.90" font-size="10.5" font-weight="bold" font-style="normal" fill="#111" text-anchor="middle" stroke="#111" stroke-width="0.3">1.263</text>
<text x="546.20" y="395.90" font-size="10.5" font-weight="normal" font-style="normal" fill="#1a0000" text-anchor="middle" stroke="#1a0000" stroke-width="0.55">246</text>
<text x="612.55" y="395.90" font-size="10.5" font-weight="bold" font-style="normal" fill="#111" text-anchor="middle" stroke="#111" stroke-width="0.3">2.817</text>
<text x="691.60" y="395.90" font-size="10.5" font-weight="normal" font-style="italic" fill="#111" text-anchor="middle" stroke="#111" stroke-width="0.3">+ 25</text>
<text x="768.35" y="395.90" font-size="10.5" font-weight="bold" font-style="normal" fill="#111" text-anchor="middle" stroke="#111" stroke-width="0.3">50.869</text>
<text x="142.35" y="412.20" font-size="10.2" font-weight="bold" font-style="normal" fill="#111" text-anchor="middle" textLength="39.50" lengthAdjust="spacingAndGlyphs" stroke="#111" stroke-width="0.3">Abruzzo</text>
<text x="217.95" y="412.20" font-size="10.5" font-weight="normal" font-style="normal" fill="#111" text-anchor="middle" stroke="#111" stroke-width="0.3">309</text>
<text x="284.70" y="412.20" font-size="10.5" font-weight="normal" font-style="normal" fill="#111" text-anchor="middle" stroke="#111" stroke-width="0.3">35</text>
<text x="353.15" y="412.20" font-size="10.5" font-weight="normal" font-style="normal" fill="#111" text-anchor="middle" stroke="#111" stroke-width="0.3">1.764</text>
<text x="425.05" y="412.20" font-size="10.5" font-weight="bold" font-style="normal" fill="#111" text-anchor="middle" stroke="#111" stroke-width="0.3">2.108</text>
<text x="490.30" y="412.20" font-size="10.5" font-weight="bold" font-style="normal" fill="#111" text-anchor="middle" stroke="#111" stroke-width="0.3">349</text>
<text x="546.20" y="412.20" font-size="10.5" font-weight="normal" font-style="normal" fill="#1a0000" text-anchor="middle" stroke="#1a0000" stroke-width="0.55">276</text>
<text x="612.55" y="412.20" font-size="10.5" font-weight="bold" font-style="normal" fill="#111" text-anchor="middle" stroke="#111" stroke-width="0.3">2.733</text>
<text x="691.60" y="412.20" font-size="10.5" font-weight="normal" font-style="italic" fill="#111" text-anchor="middle" stroke="#111" stroke-width="0.3">+ 66</text>
<text x="768.35" y="412.20" font-size="10.5" font-weight="bold" font-style="normal" fill="#111" text-anchor="middle" stroke="#111" stroke-width="0.3">30.348</text>
<text x="142.60" y="427.00" font-size="10.2" font-weight="bold" font-style="normal" fill="#111" text-anchor="middle" textLength="38.40" lengthAdjust="spacingAndGlyphs" stroke="#111" stroke-width="0.3">Bolzano</text>
<text x="217.95" y="427.00" font-size="10.5" font-weight="normal" font-style="normal" fill="#111" text-anchor="middle" stroke="#111" stroke-width="0.3">157</text>
<text x="284.70" y="427.00" font-size="10.5" font-weight="normal" font-style="normal" fill="#111" text-anchor="middle" stroke="#111" stroke-width="0.3">19</text>
<text x="353.15" y="427.00" font-size="10.5" font-weight="normal" font-style="normal" fill="#111" text-anchor="middle" stroke="#111" stroke-width="0.3">1.336</text>
<text x="425.05" y="427.00" font-size="10.5" font-weight="bold" font-style="normal" fill="#111" text-anchor="middle" stroke="#111" stroke-width="0.3">1.512</text>
<text x="490.30" y="427.00" font-size="10.5" font-weight="bold" font-style="normal" fill="#111" text-anchor="middle" stroke="#111" stroke-width="0.3">648</text>
<text x="546.20" y="427.00" font-size="10.5" font-weight="normal" font-style="normal" fill="#1a0000" text-anchor="middle" stroke="#1a0000" stroke-width="0.55">256</text>
<text x="612.55" y="427.00" font-size="10.5" font-weight="bold" font-style="normal" fill="#111" text-anchor="middle" stroke="#111" stroke-width="0.3">2.416</text>
<text x="691.60" y="427.00" font-size="10.5" font-weight="normal" font-style="italic" fill="#111" text-anchor="middle" stroke="#111" stroke-width="0.3">+ 6</text>
<text x="768.35" y="427.00" font-size="10.5" font-weight="bold" font-style="normal" fill="#111" text-anchor="middle" stroke="#111" stroke-width="0.3">32.722</text>
<text x="142.50" y="442.90" font-size="10.2" font-weight="bold" font-style="normal" fill="#111" text-anchor="middle" textLength="36.00" lengthAdjust="spacingAndGlyphs" stroke="#111" stroke-width="0.3">Umbria</text>
<text x="217.95" y="442.90" font-size="10.5" font-weight="normal" font-style="normal" fill="#111" text-anchor="middle" stroke="#111" stroke-width="0.3">97</text>
<text x="284.70" y="442.90" font-size="10.5" font-weight="normal" font-style="normal" fill="#111" text-anchor="middle" stroke="#111" stroke-width="0.3">20</text>
<text x="353.15" y="442.90" font-size="10.5" font-weight="normal" font-style="normal" fill="#111" text-anchor="middle" stroke="#111" stroke-width="0.3">254</text>
<text x="425.05" y="442.90" font-size="10.5" font-weight="bold" font-style="normal" fill="#111" text-anchor="middle" stroke="#111" stroke-width="0.3">371</text>
<text x="490.30" y="442.90" font-size="10.5" font-weight="bold" font-style="normal" fill="#111" text-anchor="middle" stroke="#111" stroke-width="0.3">925</text>
<text x="546.20" y="442.90" font-size="10.5" font-weight="normal" font-style="normal" fill="#1a0000" text-anchor="middle" stroke="#1a0000" stroke-width="0.55">61</text>
<text x="612.55" y="442.90" font-size="10.5" font-weight="bold" font-style="normal" fill="#111" text-anchor="middle" stroke="#111" stroke-width="0.3">1.357</text>
<text x="691.60" y="442.90" font-size="10.5" font-weight="normal" font-style="italic" fill="#111" text-anchor="middle" stroke="#111" stroke-width="0.3">+ 4</text>
<text x="768.35" y="442.90" font-size="10.5" font-weight="bold" font-style="normal" fill="#111" text-anchor="middle" stroke="#111" stroke-width="0.3">27.655</text>
<text x="142.25" y="459.20" font-size="10.2" font-weight="bold" font-style="normal" fill="#111" text-anchor="middle" textLength="44.70" lengthAdjust="spacingAndGlyphs" stroke="#111" stroke-width="0.3">Sardegna</text>
<text x="217.95" y="459.20" font-size="10.5" font-weight="normal" font-style="normal" fill="#111" text-anchor="middle" stroke="#111" stroke-width="0.3">97</text>
<text x="284.70" y="459.20" font-size="10.5" font-weight="normal" font-style="normal" fill="#111" text-anchor="middle" stroke="#111" stroke-width="0.3">20</text>
<text x="353.15" y="459.20" font-size="10.5" font-weight="normal" font-style="normal" fill="#111" text-anchor="middle" stroke="#111" stroke-width="0.3">716</text>
<text x="425.05" y="459.20" font-size="10.5" font-weight="bold" font-style="normal" fill="#111" text-anchor="middle" stroke="#111" stroke-width="0.3">833</text>
<text x="490.30" y="459.20" font-size="10.5" font-weight="bold" font-style="normal" fill="#111" text-anchor="middle" stroke="#111" stroke-width="0.3">318</text>
<text x="546.20" y="459.20" font-size="10.5" font-weight="normal" font-style="normal" fill="#1a0000" text-anchor="middle" stroke="#1a0000" stroke-width="0.55">96</text>
<text x="612.55" y="459.20" font-size="10.5" font-weight="bold" font-style="normal" fill="#111" text-anchor="middle" stroke="#111" stroke-width="0.3">1.247</text>
<text x="691.60" y="459.20" font-size="10.5" font-weight="normal" font-style="italic" fill="#111" text-anchor="middle" stroke="#111" stroke-width="0.3">+ 11</text>
<text x="768.35" y="459.20" font-size="10.5" font-weight="bold" font-style="normal" fill="#111" text-anchor="middle" stroke="#111" stroke-width="0.3">16.886</text>
<text x="142.05" y="474.10" font-size="10.2" font-weight="bold" font-style="normal" fill="#111" text-anchor="middle" textLength="63.70" lengthAdjust="spacingAndGlyphs" stroke="#111" stroke-width="0.3">Valle d&#39;Aosta</text>
<text x="217.95" y="474.10" font-size="10.5" font-weight="normal" font-style="normal" fill="#111" text-anchor="middle" stroke="#111" stroke-width="0.3">92</text>
<text x="284.70" y="474.10" font-size="10.5" font-weight="normal" font-style="normal" fill="#111" text-anchor="middle" stroke="#111" stroke-width="0.3">8</text>
<text x="353.15" y="474.10" font-size="10.5" font-weight="normal" font-style="normal" fill="#111" text-anchor="middle" stroke="#111" stroke-width="0.3">401</text>
<text x="425.05" y="474.10" font-size="10.5" font-weight="bold" font-style="normal" fill="#111" text-anchor="middle" stroke="#111" stroke-width="0.3">501</text>
<text x="490.30" y="474.10" font-size="10.5" font-weight="bold" font-style="normal" fill="#111" text-anchor="middle" stroke="#111" stroke-width="0.3">467</text>
<text x="546.20" y="474.10" font-size="10.5" font-weight="normal" font-style="normal" fill="#1a0000" text-anchor="middle" stroke="#1a0000" stroke-width="0.55">127</text>
<text x="612.55" y="474.10" font-size="10.5" font-weight="bold" font-style="normal" fill="#111" text-anchor="middle" stroke="#111" stroke-width="0.3">1.095</text>
<text x="691.60" y="474.10" font-size="10.5" font-weight="normal" font-style="italic" fill="#111" text-anchor="middle" stroke="#111" stroke-width="0.3">+ 2</text>
<text x="768.35" y="474.10" font-size="10.5" font-weight="bold" font-style="normal" fill="#111" text-anchor="middle" stroke="#111" stroke-width="0.3">5.024</text>
<text x="142.35" y="490.00" font-size="10.2" font-weight="bold" font-style="normal" fill="#111" text-anchor="middle" textLength="39.50" lengthAdjust="spacingAndGlyphs" stroke="#111" stroke-width="0.3">Calabria</text>
<text x="217.95" y="490.00" font-size="10.5" font-weight="normal" font-style="normal" fill="#111" text-anchor="middle" stroke="#111" stroke-width="0.3">128</text>
<text x="284.70" y="490.00" font-size="10.5" font-weight="normal" font-style="normal" fill="#111" text-anchor="middle" stroke="#111" stroke-width="0.3">7</text>
<text x="353.15" y="490.00" font-size="10.5" font-weight="normal" font-style="normal" fill="#111" text-anchor="middle" stroke="#111" stroke-width="0.3">686</text>
<text x="425.05" y="490.00" font-size="10.5" font-weight="bold" font-style="normal" fill="#111" text-anchor="middle" stroke="#111" stroke-width="0.3">821</text>
<text x="490.30" y="490.00" font-size="10.5" font-weight="bold" font-style="normal" fill="#111" text-anchor="middle" stroke="#111" stroke-width="0.3">163</text>
<text x="546.20" y="490.00" font-size="10.5" font-weight="normal" font-style="normal" fill="#1a0000" text-anchor="middle" stroke="#1a0000" stroke-width="0.55">76</text>
<text x="612.55" y="490.00" font-size="10.5" font-weight="bold" font-style="normal" fill="#111" text-anchor="middle" stroke="#111" stroke-width="0.3">1.060</text>
<text x="691.60" y="490.00" font-size="10.5" font-weight="normal" font-style="italic" fill="#111" text-anchor="middle" stroke="#111" stroke-width="0.3">+ 13</text>
<text x="768.35" y="490.00" font-size="10.5" font-weight="bold" font-style="normal" fill="#111" text-anchor="middle" stroke="#111" stroke-width="0.3">26.560</text>
<text x="142.40" y="505.20" font-size="10.2" font-weight="bold" font-style="normal" fill="#111" text-anchor="middle" textLength="45.40" lengthAdjust="spacingAndGlyphs" stroke="#111" stroke-width="0.3">Basilicata</text>
<text x="217.95" y="505.20" font-size="10.5" font-weight="normal" font-style="normal" fill="#111" text-anchor="middle" stroke="#111" stroke-width="0.3">65</text>
<text x="284.70" y="505.20" font-size="10.5" font-weight="normal" font-style="normal" fill="#111" text-anchor="middle" stroke="#111" stroke-width="0.3">7</text>
<text x="353.15" y="505.20" font-size="10.5" font-weight="normal" font-style="normal" fill="#111" text-anchor="middle" stroke="#111" stroke-width="0.3">160</text>
<text x="425.05" y="505.20" font-size="10.5" font-weight="bold" font-style="normal" fill="#111" text-anchor="middle" stroke="#111" stroke-width="0.3">232</text>
<text x="490.30" y="505.20" font-size="10.5" font-weight="bold" font-style="normal" fill="#111" text-anchor="middle" stroke="#111" stroke-width="0.3">98</text>
<text x="546.20" y="505.20" font-size="10.5" font-weight="normal" font-style="normal" fill="#1a0000" text-anchor="middle" stroke="#1a0000" stroke-width="0.55">24</text>
<text x="612.55" y="505.20" font-size="10.5" font-weight="bold" font-style="normal" fill="#111" text-anchor="middle" stroke="#111" stroke-width="0.3">354</text>
<text x="691.60" y="505.20" font-size="10.5" font-weight="normal" font-style="italic" fill="#111" text-anchor="middle" stroke="#111" stroke-width="0.3">+ 4</text>
<text x="768.35" y="505.20" font-size="10.5" font-weight="bold" font-style="normal" fill="#111" text-anchor="middle" stroke="#111" stroke-width="0.3">8.040</text>
<text x="142.25" y="521.20" font-size="10.2" font-weight="bold" font-style="normal" fill="#111" text-anchor="middle" textLength="32.70" lengthAdjust="spacingAndGlyphs" stroke="#111" stroke-width="0.3">Molise</text>
<text x="217.95" y="521.20" font-size="10.5" font-weight="normal" font-style="normal" fill="#111" text-anchor="middle" stroke="#111" stroke-width="0.3">21</text>
<text x="284.70" y="521.20" font-size="10.5" font-weight="normal" font-style="normal" fill="#111" text-anchor="middle" stroke="#111" stroke-width="0.3">2</text>
<text x="353.15" y="521.20" font-size="10.5" font-weight="normal" font-style="normal" fill="#111" text-anchor="middle" stroke="#111" stroke-width="0.3">182</text>
<text x="425.05" y="521.20" font-size="10.5" font-weight="bold" font-style="normal" fill="#111" text-anchor="middle" stroke="#111" stroke-width="0.3">205</text>
<text x="490.30" y="521.20" font-size="10.5" font-weight="bold" font-style="normal" fill="#111" text-anchor="middle" stroke="#111" stroke-width="0.3">60</text>
<text x="546.20" y="521.20" font-size="10.5" font-weight="normal" font-style="normal" fill="#1a0000" text-anchor="middle" stroke="#1a0000" stroke-width="0.55">19</text>
<text x="612.55" y="521.20" font-size="10.5" font-weight="bold" font-style="normal" fill="#111" text-anchor="middle" stroke="#111" stroke-width="0.3">284</text>
<text x="691.60" y="521.20" font-size="10.5" font-weight="normal" font-style="italic" fill="#111" text-anchor="middle" stroke="#111" stroke-width="0.3">+ 2</text>
<text x="768.35" y="521.20" font-size="10.5" font-weight="bold" font-style="normal" fill="#111" text-anchor="middle" stroke="#111" stroke-width="0.3">4.425</text>
<text x="142.60" y="538.00" font-size="10.2" font-weight="bold" font-style="normal" fill="#111" text-anchor="middle" textLength="37.00" lengthAdjust="spacingAndGlyphs" stroke="#111" stroke-width="0.3">TOTALE</text>
<text x="217.95" y="538.00" font-size="10.5" font-weight="bold" font-style="normal" fill="#111" text-anchor="middle" stroke="#111" stroke-width="0.3">23.805</text>
<text x="284.70" y="538.00" font-size="10.5" font-weight="bold" font-style="normal" fill="#111" text-anchor="middle" stroke="#111" stroke-width="0.3">2.384</text>
<text x="353.15" y="538.00" font-size="10.5" font-weight="bold" font-style="normal" fill="#111" text-anchor="middle" stroke="#111" stroke-width="0.3">81.510</text>
<text x="425.05" y="538.00" font-size="10.5" font-weight="bold" font-style="normal" fill="#111" text-anchor="middle" stroke="#111" stroke-width="0.3">107.699</text>
<text x="490.30" y="538.00" font-size="10.5" font-weight="bold" font-style="normal" fill="#111" text-anchor="middle" stroke="#111" stroke-width="0.3">54.543</text>
<text x="546.20" y="538.00" font-size="10.5" font-weight="bold" font-style="normal" fill="#1a0000" text-anchor="middle" stroke="#1a0000" stroke-width="0.55">25.085</text>
<text x="612.55" y="538.00" font-size="10.5" font-weight="bold" font-style="normal" fill="#111" text-anchor="middle" stroke="#111" stroke-width="0.3">187.327</text>
<text x="691.60" y="538.00" font-size="10.5" font-weight="normal" font-style="italic" fill="#111" text-anchor="middle" stroke="#111" stroke-width="0.3">+ 3.370</text>
<text x="768.35" y="538.00" font-size="10.5" font-weight="bold" font-style="normal" fill="#111" text-anchor="middle" stroke="#111" stroke-width="0.3">1.513.251</text>
<rect x="186.70" y="548.80" width="200.50" height="15.70" fill="#ffff00"/>
<rect x="186.70" y="564.50" width="200.50" height="16.70" fill="#12fb12"/>
<rect x="186.70" y="581.20" width="200.50" height="16.50" fill="#fe0000"/>
<rect x="186.70" y="597.70" width="200.50" height="15.60" fill="#ffc000"/>
<rect x="186.70" y="562.95" width="200.50" height="3.10" fill="#fff" fill-opacity="0.28"/>
<rect x="186.70" y="563.85" width="200.50" height="1.30" fill="#000" fill-opacity="0.8"/>
<rect x="186.70" y="579.65" width="200.50" height="3.10" fill="#fff" fill-opacity="0.28"/>
<rect x="186.70" y="580.55" width="200.50" height="1.30" fill="#000" fill-opacity="0.8"/>
<rect x="186.70" y="596.15" width="200.50" height="3.10" fill="#fff" fill-opacity="0.28"/>
<rect x="186.70" y="597.05" width="200.50" height="1.30" fill="#000" fill-opacity="0.8"/>
<rect x="318.00" y="548.80" width="3.20" height="64.50" fill="#fff" fill-opacity="0.28"/>
<rect x="318.90" y="548.80" width="1.40" height="64.50" fill="#000" fill-opacity="0.85"/>
<rect x="186.05" y="548.15" width="201.80" height="1.30" fill="#1e1a08"/>
<rect x="186.05" y="612.65" width="201.80" height="1.30" fill="#1e1a08"/>
<rect x="186.05" y="548.15" width="1.30" height="65.80" fill="#1e1a08"/>
<rect x="386.55" y="548.15" width="1.30" height="65.80" fill="#1e1a08"/>
<text x="193.80" y="561.60" font-size="10.6" font-weight="bold" font-style="normal" fill="#111" text-anchor="start" textLength="118.50" lengthAdjust="spacingAndGlyphs" stroke="#111" stroke-width="0.45">ATTUALMENTE POSITIVI</text>
<text x="334.50" y="561.60" font-size="10.5" font-weight="bold" font-style="normal" fill="#111" text-anchor="start" textLength="37.90" lengthAdjust="spacingAndGlyphs" stroke="#111" stroke-width="0.45">107.699</text>
<text x="213.20" y="577.70" font-size="10.6" font-weight="bold" font-style="normal" fill="#111" text-anchor="start" textLength="80.00" lengthAdjust="spacingAndGlyphs" stroke="#111" stroke-width="0.45">TOTALE GUARITI</text>
<text x="337.40" y="577.70" font-size="10.5" font-weight="bold" font-style="normal" fill="#111" text-anchor="start" textLength="32.00" lengthAdjust="spacingAndGlyphs" stroke="#111" stroke-width="0.45">54.543</text>
<text x="209.30" y="593.80" font-size="10.6" font-weight="bold" font-style="normal" fill="#200000" text-anchor="start" textLength="88.30" lengthAdjust="spacingAndGlyphs" stroke="#200000" stroke-width="0.45">TOTALE DECEDUTI</text>
<text x="338.00" y="593.80" font-size="10.5" font-weight="bold" font-style="normal" fill="#200000" text-anchor="start" textLength="31.80" lengthAdjust="spacingAndGlyphs" stroke="#200000" stroke-width="0.45">25.085</text>
<text x="223.80" y="609.90" font-size="10.6" font-weight="bold" font-style="normal" fill="#111" text-anchor="start" textLength="58.90" lengthAdjust="spacingAndGlyphs" stroke="#111" stroke-width="0.45">CASI TOTALI</text>
<text x="334.80" y="609.90" font-size="10.5" font-weight="bold" font-style="normal" fill="#111" text-anchor="start" textLength="37.60" lengthAdjust="spacingAndGlyphs" stroke="#111" stroke-width="0.45">187.327</text>
</svg>
</body></html>
